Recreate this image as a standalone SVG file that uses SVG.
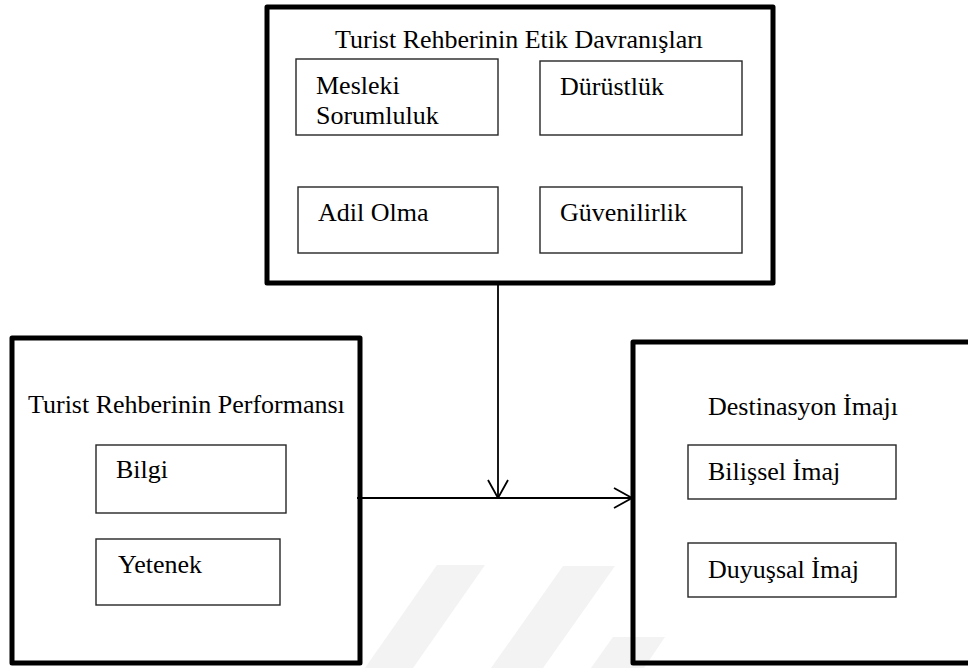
<svg xmlns="http://www.w3.org/2000/svg" width="968" height="668" viewBox="0 0 968 668">
  <style>
    .frame { fill: none; stroke: #000; stroke-width: 5; stroke-linejoin: round; }
    .item { fill: none; stroke: #262626; stroke-width: 1.4; }
    .label { font-family: "Liberation Serif", "Times New Roman", Times, serif; font-size: 26px; fill: #000; }
    .link { fill: none; stroke: #000; stroke-width: 1.8; }
    .mark { fill: #f3f3f3; stroke: none; }
  </style>
  <defs>
    <marker id="open-arrow" viewBox="0 0 20 22" refX="19" refY="11" markerWidth="20" markerHeight="22" markerUnits="userSpaceOnUse" orient="auto">
      <path d="M1,1 L19,11 L1,21" fill="none" stroke="#000" stroke-width="1.8"/>
    </marker>
  </defs>

  <rect width="968" height="668" fill="#fff"/>

  <!-- faint background stripes -->
  <g id="background-stripes">
    <polygon class="mark" points="437,565 485,565 413,668 365,668"/>
    <polygon class="mark" points="563,566 615,566 543,668 491,668"/>
    <polygon class="mark" points="613,637 665,637 644,668 591,668"/>
  </g>

  <!-- Ethical behaviour group -->
  <g id="etik-davranislar">
    <rect class="frame" x="267" y="7" width="506" height="276"/>
    <text class="label" x="335" y="48">Turist Rehberinin Etik Davranışları</text>
    <g id="mesleki-sorumluluk">
      <rect class="item" x="296" y="59" width="202" height="76"/>
      <text class="label" x="316" y="94">Mesleki</text>
      <text class="label" x="316" y="124">Sorumluluk</text>
    </g>
    <g id="durustluk">
      <rect class="item" x="540" y="61" width="202" height="74"/>
      <text class="label" x="560" y="95">Dürüstlük</text>
    </g>
    <g id="adil-olma">
      <rect class="item" x="298" y="187" width="200" height="66"/>
      <text class="label" x="318" y="221">Adil Olma</text>
    </g>
    <g id="guvenilirlik">
      <rect class="item" x="540" y="187" width="202" height="66"/>
      <text class="label" x="560" y="221">Güvenilirlik</text>
    </g>
  </g>

  <!-- Guide performance group -->
  <g id="performans">
    <rect class="frame" x="12" y="338" width="348" height="325"/>
    <text class="label" x="28" y="413">Turist Rehberinin Performansı</text>
    <g id="bilgi">
      <rect class="item" x="96" y="445" width="190" height="68"/>
      <text class="label" x="116" y="478">Bilgi</text>
    </g>
    <g id="yetenek">
      <rect class="item" x="96" y="539" width="184" height="66"/>
      <text class="label" x="118" y="573">Yetenek</text>
    </g>
  </g>

  <!-- Destination image group -->
  <g id="destinasyon-imaji">
    <rect class="frame" x="633" y="342" width="345" height="321"/>
    <text class="label" x="708" y="415">Destinasyon İmajı</text>
    <g id="bilissel-imaj">
      <rect class="item" x="688" y="445" width="208" height="54"/>
      <text class="label" x="708" y="480">Bilişsel İmaj</text>
    </g>
    <g id="duyussal-imaj">
      <rect class="item" x="688" y="543" width="208" height="54"/>
      <text class="label" x="708" y="578">Duyuşsal İmaj</text>
    </g>
  </g>

  <!-- Connectors -->
  <g id="connectors">
    <line class="link" x1="498" y1="285" x2="498" y2="498" marker-end="url(#open-arrow)"/>
    <line class="link" x1="357" y1="498" x2="632" y2="498" marker-end="url(#open-arrow)"/>
  </g>
</svg>
